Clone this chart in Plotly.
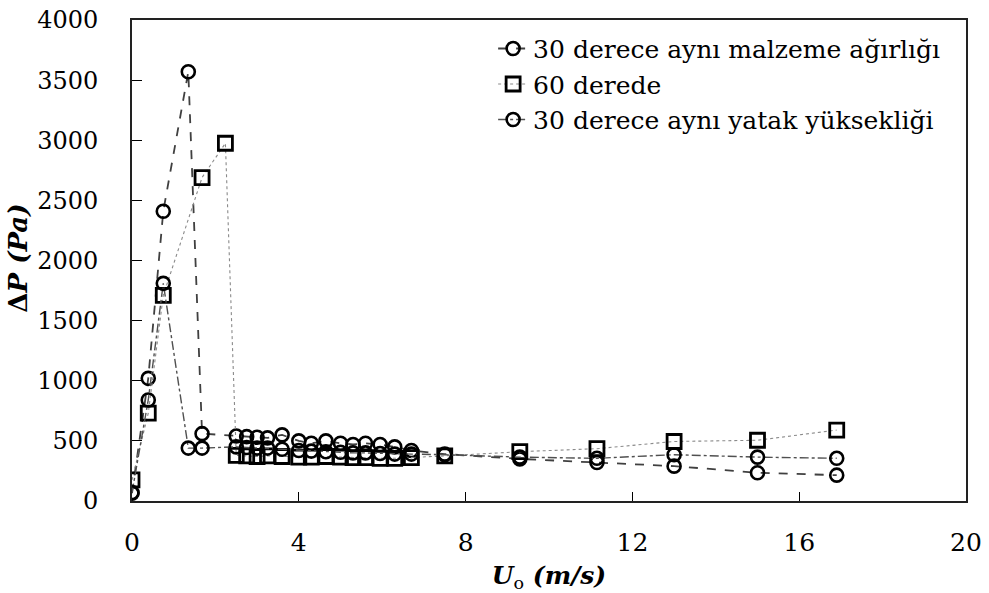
import plotly.graph_objects as go

# Superficial velocity U0 (m/s) and pressure drop dP (Pa) for each run
u_malzeme = [0, 0.39, 0.75, 1.35, 1.68, 2.5, 2.75, 3.0, 3.25, 3.6, 4.0, 4.3, 4.65, 5.0,
             5.3, 5.6, 5.95, 6.3, 6.7, 7.5, 9.3, 11.15, 13.0, 15.0, 16.9]
dp_malzeme = [65, 1020, 2410, 3570, 560, 540, 535, 530, 525, 550, 500, 480, 500, 480,
              470, 480, 470, 450, 420, 390, 350, 320, 290, 235, 215]

u_60 = [0, 0.39, 0.75, 1.68, 2.24, 2.5, 2.75, 3.0, 3.25, 3.6, 4.0, 4.3, 4.65, 5.0,
        5.3, 5.6, 5.95, 6.3, 6.7, 7.5, 9.3, 11.15, 13.0, 15.0, 16.9]
dp_60 = [175, 730, 1710, 2690, 2975, 380, 375, 370, 375, 370, 365, 365, 370, 365,
         360, 360, 355, 355, 360, 375, 410, 435, 495, 505, 590]

u_yatak = [0, 0.39, 0.75, 1.35, 1.68, 2.5, 2.75, 3.0, 3.25, 3.6, 4.0, 4.3, 4.65, 5.0,
           5.3, 5.6, 5.95, 6.3, 6.7, 7.5, 9.3, 11.15, 13.0, 15.0, 16.9]
dp_yatak = [70, 840, 1810, 440, 440, 450, 445, 440, 440, 430, 420, 415, 410, 405,
            400, 400, 395, 390, 390, 385, 365, 355, 385, 365, 355]

names = ["30 derece aynı malzeme ağırlığı", "60 derede", "30 derece aynı yatak yüksekliği"]
x_ticks = [0, 4, 8, 12, 16, 20]
y_ticks = [0, 500, 1000, 1500, 2000, 2500, 3000, 3500, 4000]

SERIF = "DejaVu Serif"

fig = go.Figure()
fig.add_trace(go.Scatter(
    x=u_malzeme, y=dp_malzeme, name=names[0], mode="lines+markers",
    line=dict(color="#404040", width=1.8, dash="dash"),
    marker=dict(symbol="circle-open", size=13, color="black", line=dict(width=2.6)),
))
fig.add_trace(go.Scatter(
    x=u_60, y=dp_60, name=names[1], mode="lines+markers",
    line=dict(color="#8a8a8a", width=1.1, dash="dot"),
    marker=dict(symbol="square-open", size=14, color="black", line=dict(width=2.8)),
))
fig.add_trace(go.Scatter(
    x=u_yatak, y=dp_yatak, name=names[2], mode="lines+markers",
    line=dict(color="#505050", width=1.4, dash="dashdot"),
    marker=dict(symbol="circle-open", size=13, color="black", line=dict(width=2.6)),
))

fig.update_layout(
    width=989, height=593,
    margin=dict(l=132, r=23, t=20, b=92, autoexpand=False),
    paper_bgcolor="white", plot_bgcolor="white",
    font=dict(family=SERIF, color="black"),
    showlegend=True,
    legend=dict(
        x=0.433, y=0.988, xanchor="left", yanchor="top",
        font=dict(family=SERIF, size=25, color="black"),
        bgcolor="rgba(0,0,0,0)", borderwidth=0,
    ),
    xaxis=dict(
        range=[0, 20], tickvals=x_ticks, ticktext=[str(v) for v in x_ticks],
        ticks="inside", ticklen=9, tickwidth=1.2, tickcolor="black",
        showline=True, linecolor="#222", linewidth=1.8, mirror=True,
        showgrid=False, zeroline=False, automargin=False,
        tickfont=dict(family=SERIF, size=25, color="black"),
        ticklabelstandoff=18,
        title=dict(text="<b><i>U</i></b><sub>o</sub><b><i> (m/s)</i></b>",
                   font=dict(family=SERIF, size=25, color="black"), standoff=14),
    ),
    yaxis=dict(
        range=[0, 4000], tickvals=y_ticks, ticktext=[str(v) for v in y_ticks],
        ticks="inside", ticklen=10, tickwidth=1.2, tickcolor="black",
        showline=True, linecolor="#222", linewidth=1.8, mirror=True,
        showgrid=False, zeroline=False, automargin=False,
        tickfont=dict(family=SERIF, size=24, color="black"),
        ticklabelstandoff=27,
    ),
    annotations=[dict(
        text="<b>Δ<i>P</i> <i>(Pa)</i></b>", textangle=-90,
        xref="paper", yref="paper", x=-0.136, y=0.505,
        xanchor="center", yanchor="middle", showarrow=False,
        font=dict(family=SERIF, size=26, color="black"),
    )],
)

fig.write_html("out.html")
